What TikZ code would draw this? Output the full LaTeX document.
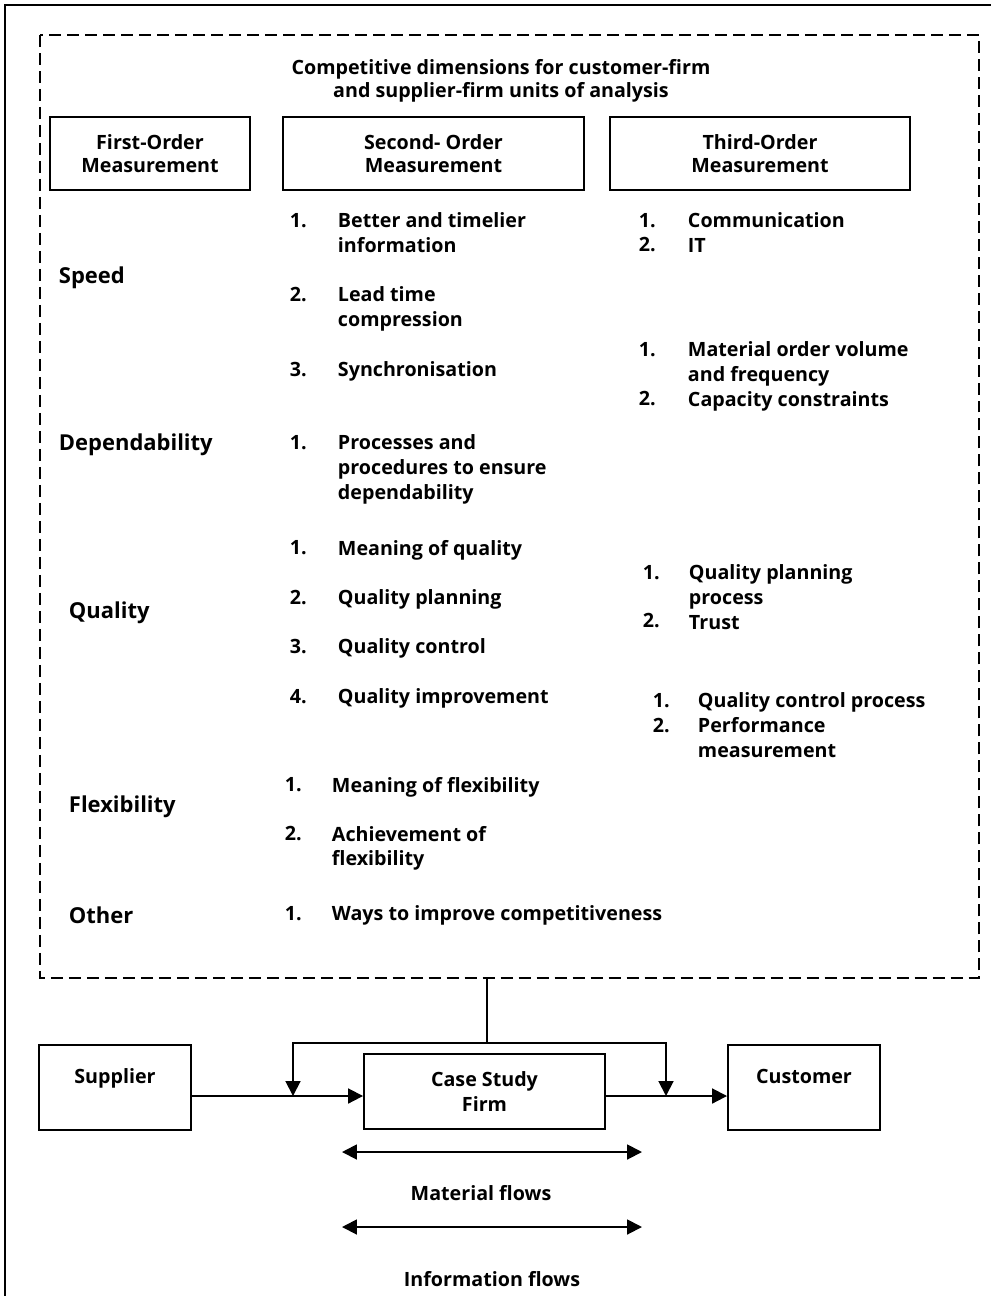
\documentclass[tikz,border=0pt]{standalone}
\usepackage{fontspec}
\setmainfont{Open Sans}
\usetikzlibrary{arrows.meta,positioning}
\tikzset{hdr/.style={rectangle, draw, align=center, inner sep=0pt,
    minimum height=1.46cm, font=\bfseries\fontsize{11.2}{13.1}\selectfont}}
\tikzset{dim/.style={anchor=west, inner sep=0pt,
    font=\bfseries\fontsize{12.5}{14}\selectfont}}
\tikzset{num/.style={anchor=north west, inner sep=0pt}}
\tikzset{itm/.style={anchor=north west, inner sep=0pt, align=left}}
\tikzset{box/.style={rectangle, draw, minimum width=3.04cm, inner ysep=0.46cm,
    text height=0.3cm, text depth=0.48cm}}
\tikzset{firmbox/.style={rectangle, draw, align=center, minimum width=4.82cm,
    minimum height=1.5cm}}

\begin{document}
\begin{tikzpicture}[x=0.02cm,y=-0.02cm,line width=1.1pt,
    >={Triangle[length=8.5pt,width=8.5pt]},
    every node/.style={font=\bfseries\fontsize{11.2}{14.2}\selectfont}]
  \useasboundingbox (0,0) rectangle (991,1296);
  % outer frame, runs off the page at right and bottom
  \draw (5,1400) -- (5,5) -- (1100,5);
  \draw[dash pattern=on 0.24cm off 0.12cm] (40,35) rectangle (979,978);

  \node[align=center, font=\bfseries\fontsize{11.2}{13.1}\selectfont] (title) at (501,81)
    {Competitive dimensions for customer-firm\\and supplier-firm units of analysis};

  \node[hdr, minimum width=4cm] (fo) at (150,153.5) {First-Order\\Measurement};
  \node[hdr, minimum width=6.02cm] (so) at (433.5,153.5) {Second- Order\\Measurement};
  \node[hdr, minimum width=6cm] (to) at (760,153.5) {Third-Order\\Measurement};

  \node[dim] (speed) at (58,278) {Speed};
  \node[dim] (dep) at (58,445) {Dependability};
  \node[dim] (qual) at (68,613) {Quality};
  \node[dim] (flex) at (68,807) {Flexibility};
  \node[dim] (oth) at (68,915) {Other};

  % second-order items
  \node[num] (sp1) at (289,212) {1.};
  \node[itm] (sp1t) at (337,212) {Better and timelier\\information};
  \node[num] (sp2) at (289,286) {2.};
  \node[itm] (sp2t) at (337,286) {Lead time\\compression};
  \node[num] (sp3) at (289,361) {3.};
  \node[itm] (sp3t) at (337,361) {Synchronisation};
  \node[num] (de1) at (289,434) {1.};
  \node[itm] (de1t) at (337,434) {Processes and\\procedures to ensure\\dependability};
  \node[num] (qu1) at (289,539) {1.};
  \node[itm] (qu1t) at (337,539) {Meaning of quality};
  \node[num] (qu2) at (289,589) {2.};
  \node[itm] (qu2t) at (337,589) {Quality planning};
  \node[num] (qu3) at (289,638) {3.};
  \node[itm] (qu3t) at (337,638) {Quality control};
  \node[num] (qu4) at (289,688) {4.};
  \node[itm] (qu4t) at (337,688) {Quality improvement};
  \node[num] (fl1) at (284,776) {1.};
  \node[itm] (fl1t) at (331,776) {Meaning of flexibility};
  \node[num] (fl2) at (284,825) {2.};
  \node[itm] (fl2t) at (331,825) {Achievement of\\flexibility};
  \node[num] (ot1) at (284,905) {1.};
  \node[itm] (ot1t) at (331,905) {Ways to improve competitiveness};

  % third-order items
  \node[num, align=left] (cm1) at (638,212) {1.\\2.};
  \node[itm] (cm1t) at (687,212) {Communication\\IT};
  \node[num] (mo1) at (638,341) {1.};
  \node[num] (mo2) at (638,390) {2.};
  \node[itm] (mo1t) at (687,341) {Material order volume\\and frequency\\Capacity constraints};
  \node[num] (qp1) at (642,564) {1.};
  \node[num] (qp2) at (642,612) {2.};
  \node[itm] (qp1t) at (688,564) {Quality planning\\process\\Trust};
  \node[num] (qc1) at (652,692) {1.};
  \node[num] (qc2) at (652,717) {2.};
  \node[itm] (qc1t) at (697,692) {Quality control process\\Performance\\measurement};

  % supply chain
  \node[box] (sup) at (115,1087.5) {Supplier};
  \node[firmbox] (firm) at (484.5,1091.5) {Case Study\\Firm};
  \node[box] (cust) at (804,1087.5) {Customer};

  \coordinate (dbot) at (487,978);
  \coordinate (fork) at (487,1043);
  \coordinate (mid) at (0,1096);
  \coordinate (inL) at (293,1096);
  \coordinate (inR) at (666,1096);
  \draw (dbot) -- (fork);
  \draw[->] (fork) -| (inL);
  \draw[->] (fork) -| (inR);
  \draw[->] (sup.east |- mid) -- (firm.west |- mid);
  \draw[->] (firm.east |- mid) -- (cust.west |- mid);

  \coordinate (ma) at (342,1152);
  \coordinate (mb) at (642,1152);
  \coordinate (ia) at (342,1227);
  \coordinate (ib) at (642,1227);
  \draw[<->] (ma) -- (mb);
  \draw[<->] (ia) -- (ib);
  \node (matl) at (481,1193) {Material flows};
  \node (info) at (492,1279) {Information flows};
\end{tikzpicture}
\end{document}
